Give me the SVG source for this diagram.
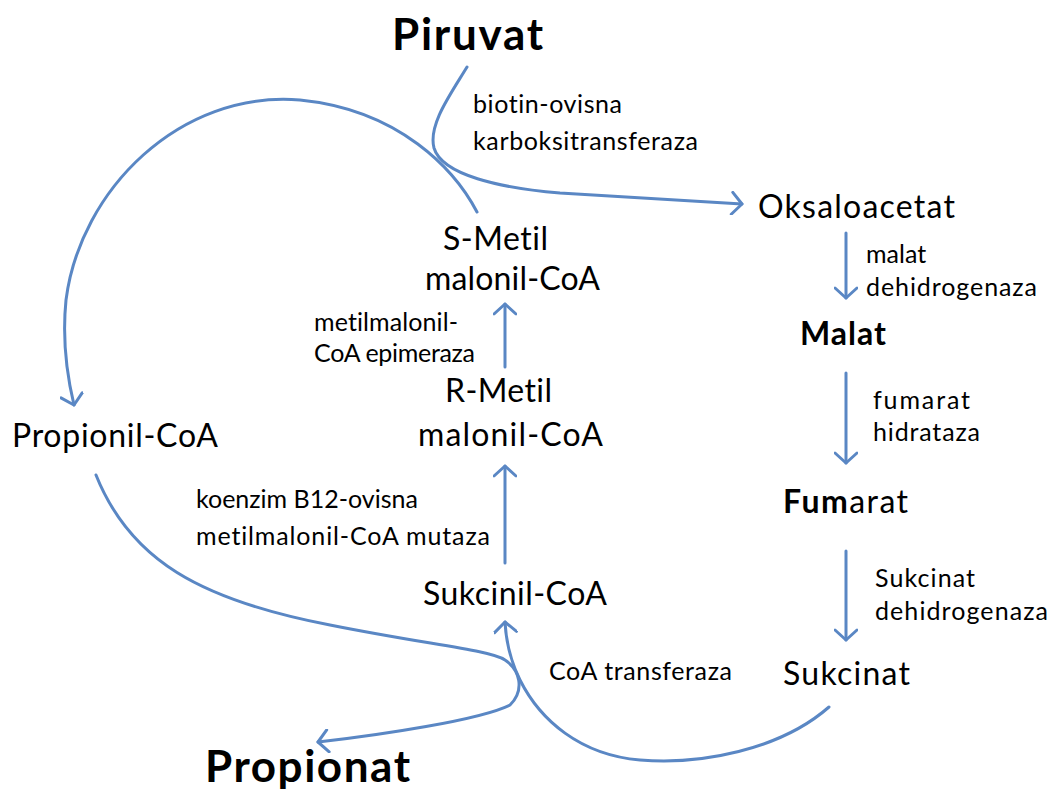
<svg xmlns="http://www.w3.org/2000/svg" width="1053" height="797" viewBox="0 0 1053 797">
<defs>
<style>
text{font-family:Lato,"Open Sans","Liberation Sans",sans-serif;fill:#000;font-variant-ligatures:none;font-feature-settings:"liga" 0,"clig" 0}
.big{font-size:44px;font-weight:bold}
.med{font-size:32px}
.sm{font-size:25px}
.b{font-weight:bold}
.c{fill:none;stroke:#5a87c4;stroke-width:3;stroke-linecap:round}
</style>
<marker id="ah" viewBox="0 0 14 24" refX="12" refY="12" markerWidth="14" markerHeight="24" markerUnits="userSpaceOnUse" orient="auto">
<path d="M2,1 L12,12 L2,23" fill="none" stroke="#5a87c4" stroke-width="3" stroke-linecap="round" stroke-linejoin="round"/>
</marker>
</defs>
<rect width="1053" height="797" fill="#fff"/>
<g id="connectors">
<path class="c" d="M467,67 C450,95 428,125 434,148 C442,175 500,188 560,193 C640,198 700,201 742,204" marker-end="url(#ah)"/>
<path class="c" d="M477,212 C455,170 400,110 300,100 C180,90 80,190 66,300 C62,340 68,380 74,405" marker-end="url(#ah)"/>
<path class="c" d="M96,475 C130,560 200,600 330,625 C430,645 490,650 505,660 C520,670 525,690 510,705 C480,720 380,735 318,742" marker-end="url(#ah)"/>
<path class="c" d="M829,707 C780,750 700,765 640,760 C580,755 540,720 520,680 C510,660 506,640 505,622" marker-end="url(#ah)"/>
<path class="c" d="M846,233 L846,298" marker-end="url(#ah)"/>
<path class="c" d="M846,373 L846,463" marker-end="url(#ah)"/>
<path class="c" d="M846,551 L846,640" marker-end="url(#ah)"/>
<path class="c" d="M505,367 L505,304" marker-end="url(#ah)"/>
<path class="c" d="M505,563 L505,466" marker-end="url(#ah)"/>
</g>
<g id="piruvat"><text class="big" x="392" y="50" textLength="151">Piruvat</text></g>
<g id="enz-biotin"><text class="sm" x="473" y="113" textLength="149">biotin-ovisna</text><text class="sm" x="473" y="150" textLength="225">karboksitransferaza</text></g>
<g id="oksaloacetat"><text class="med" x="758" y="218" textLength="197">Oksaloacetat</text></g>
<g id="s-metil"><text class="med" x="443" y="250" textLength="105">S-Metil</text><text class="med" x="425" y="290" textLength="175">malonil-CoA</text></g>
<g id="enz-malat"><text class="sm" x="866" y="263">malat</text><text class="sm" x="866" y="296" textLength="171">dehidrogenaza</text></g>
<g id="enz-epimeraza"><text class="sm" x="314" y="331" textLength="144">metilmalonil-</text><text class="sm" x="314" y="362" textLength="161">CoA epimeraza</text></g>
<g id="malat"><text class="med b" x="800" y="345" textLength="86">Malat</text></g>
<g id="r-metil"><text class="med" x="445" y="402" textLength="107">R-Metil</text><text class="med" x="418" y="446" textLength="185">malonil-CoA</text></g>
<g id="propionil-coa"><text class="med" x="12" y="447" textLength="206">Propionil-CoA</text></g>
<g id="enz-fumarat"><text class="sm" x="873" y="409" textLength="97">fumarat</text><text class="sm" x="873" y="441" textLength="107">hidrataza</text></g>
<g id="enz-mutaza"><text class="sm" x="196" y="508">koenzim B12-ovisna</text><text class="sm" x="196" y="545" textLength="294">metilmalonil-CoA mutaza</text></g>
<g id="fumarat"><text class="med" x="783" y="513" textLength="125"><tspan class="b">Fum</tspan>arat</text></g>
<g id="enz-sukcinat"><text class="sm" x="875" y="587" textLength="100">Sukcinat</text><text class="sm" x="875" y="620" textLength="173">dehidrogenaza</text></g>
<g id="sukcinil-coa"><text class="med" x="423" y="605" textLength="184">Sukcinil-CoA</text></g>
<g id="enz-coa"><text class="sm" x="549" y="680" textLength="183">CoA transferaza</text></g>
<g id="sukcinat"><text class="med" x="783" y="685" textLength="127">Sukcinat</text></g>
<g id="propionat"><text class="big" x="205" y="782" textLength="205">Propionat</text></g>
</svg>
